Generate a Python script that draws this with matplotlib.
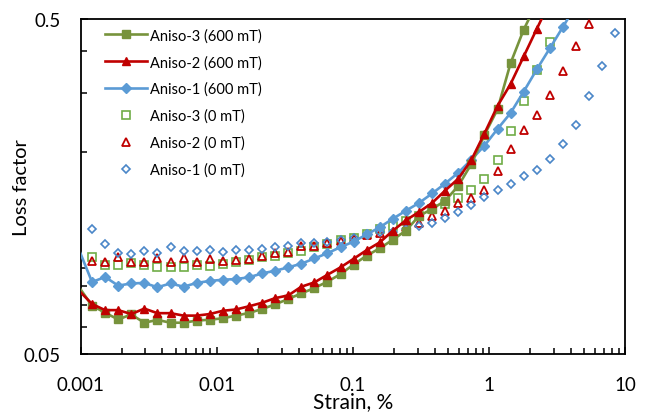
import matplotlib
matplotlib.use("Agg")
import matplotlib.pyplot as plt
from matplotlib.ticker import LogLocator, FixedLocator, NullFormatter, FixedFormatter

plt.rcParams['font.family'] = ['Lato', 'DejaVu Sans']

# Strain values (%) at which the data were recorded
strain = [0.000974, 0.001215, 0.001516, 0.001891, 0.002359, 0.002943, 0.003673,
          0.004582, 0.005716, 0.007131, 0.008897, 0.01110, 0.01385, 0.01728,
          0.02156, 0.02690, 0.03357, 0.04188, 0.05225, 0.06521, 0.08134,
          0.1015, 0.1266, 0.1580, 0.1971, 0.2459, 0.3069, 0.3828, 0.4776,
          0.5959, 0.7436, 0.9279, 1.158, 1.444, 1.802, 2.248, 2.805, 3.500,
          4.367, 5.448, 6.797, 8.481]

# 600 mT series (start at strain[0])
aniso3_600 = [0.0792, 0.0697, 0.0664, 0.0634, 0.0656, 0.0620, 0.0632, 0.0620,
              0.0620, 0.0629, 0.0633, 0.0639, 0.0651, 0.0663, 0.0681, 0.0703,
              0.0730, 0.0758, 0.0787, 0.0822, 0.0866, 0.0925, 0.0983, 0.1034,
              0.1097, 0.1168, 0.1291, 0.1355, 0.1434, 0.1587, 0.1846, 0.2253,
              0.2688, 0.3690, 0.4645, 0.5581]
aniso2_600 = [0.0773, 0.0705, 0.0676, 0.0676, 0.0658, 0.0683, 0.0662, 0.0662,
              0.0651, 0.0651, 0.0658, 0.0673, 0.0679, 0.0694, 0.0711, 0.0734,
              0.0748, 0.0794, 0.0818, 0.0862, 0.0907, 0.0962, 0.1021, 0.1077,
              0.1167, 0.1254, 0.1327, 0.1412, 0.1538, 0.1668, 0.1897, 0.2276,
              0.2750, 0.3198, 0.3864, 0.4668, 0.5620]
aniso1_600 = [0.1024, 0.0820, 0.0849, 0.0800, 0.0812, 0.0815, 0.0791, 0.0812,
              0.0794, 0.0815, 0.0826, 0.0833, 0.0837, 0.0847, 0.0870, 0.0886,
              0.0907, 0.0930, 0.0964, 0.1000, 0.1042, 0.1083, 0.1137, 0.1195,
              0.1267, 0.1339, 0.1412, 0.1507, 0.1614, 0.1738, 0.1901, 0.2093,
              0.2348, 0.2620, 0.3034, 0.3534, 0.4088, 0.4732, 0.5505]

# 0 mT series (start at strain[1])
aniso3_0 = [0.0977, 0.0922, 0.0922, 0.0933, 0.0923, 0.0909, 0.0909, 0.0909,
            0.0922, 0.0917, 0.0930, 0.0939, 0.0956, 0.0972, 0.0983, 0.1001,
            0.1017, 0.1041, 0.1065, 0.1093, 0.1108, 0.1141, 0.1181, 0.1205,
            0.1247, 0.1294, 0.1355, 0.1402, 0.1458, 0.1547, 0.1665, 0.1901,
            0.2320, 0.2852, 0.3522, 0.4278]
aniso2_0 = [0.0948, 0.0938, 0.0977, 0.0943, 0.0939, 0.0964, 0.0941, 0.0966,
            0.0939, 0.0961, 0.0948, 0.0954, 0.0959, 0.0981, 0.0999, 0.1010,
            0.1047, 0.1051, 0.1069, 0.1086, 0.1102, 0.1133, 0.1149, 0.1159,
            0.1201, 0.1230, 0.1294, 0.1339, 0.1407, 0.1464, 0.1544, 0.1753,
            0.2046, 0.2336, 0.2590, 0.2966, 0.3497, 0.4139, 0.4831]
aniso1_0 = [0.1181, 0.1065, 0.1001, 0.0991, 0.1012, 0.1001, 0.1043, 0.1013,
            0.1013, 0.1022, 0.1010, 0.1022, 0.1022, 0.1031, 0.1043, 0.1051,
            0.1069, 0.1069, 0.1083, 0.1095, 0.1106, 0.1137, 0.1157, 0.1159,
            0.1177, 0.1205, 0.1230, 0.1271, 0.1324, 0.1392, 0.1468, 0.1547,
            0.1609, 0.1696, 0.1775, 0.1906, 0.2113, 0.2418, 0.2945, 0.3627,
            0.4541]

x_ticks = [0.001, 0.01, 0.1, 1, 10]
x_tick_labels = ['0.001', '0.01', '0.1', '1', '10']
y_ticks = [0.05, 0.5]
y_tick_labels = ['0.05', '0.5']

GREEN_DARK = '#77933C'
GREEN_LIGHT = '#70AD47'
RED = '#C00000'
BLUE = '#5B9BD5'
BLUE_OPEN = '#4A86C8'

fig = plt.figure(figsize=(6.51, 4.14), dpi=100)
ax = fig.add_axes([0.1237, 0.1425, 0.8363, 0.8092])

def x_for(series, start):
    return strain[start:start + len(series)]

lw = 1.9
ax.plot(x_for(aniso3_600, 0), aniso3_600, color=GREEN_DARK, lw=lw, marker='s',
        ms=5.2, mfc=GREEN_DARK, mec=GREEN_DARK, markevery=slice(1, None),
        label='Aniso-3 (600 mT)', zorder=5)
ax.plot(x_for(aniso2_600, 0), aniso2_600, color=RED, lw=lw, marker='^',
        ms=5.6, mfc=RED, mec=RED, markevery=slice(1, None),
        label='Aniso-2 (600 mT)', zorder=6)
ax.plot(x_for(aniso1_600, 0), aniso1_600, color=BLUE, lw=lw, marker='D',
        ms=5.2, mfc=BLUE, mec=BLUE, markevery=slice(1, None),
        label='Aniso-1 (600 mT)', zorder=4)
ax.plot(x_for(aniso3_0, 1), aniso3_0, ls='none', marker='s', ms=5.6,
        mfc='none', mec=GREEN_LIGHT, mew=1.2, label='Aniso-3 (0 mT)', zorder=3)
ax.plot(x_for(aniso2_0, 1), aniso2_0, ls='none', marker='^', ms=5.6,
        mfc='none', mec=RED, mew=1.3, label='Aniso-2 (0 mT)', zorder=3)
ax.plot(x_for(aniso1_0, 1), aniso1_0, ls='none', marker='D', ms=4.2,
        mfc='none', mec=BLUE_OPEN, mew=1.2, label='Aniso-1 (0 mT)', zorder=3)

ax.set_xscale('log')
ax.set_yscale('log')
ax.set_xlim(0.001, 10)
ax.set_ylim(0.05, 0.5)

ax.xaxis.set_major_locator(FixedLocator(x_ticks))
ax.xaxis.set_major_formatter(FixedFormatter(x_tick_labels))
ax.xaxis.set_minor_locator(LogLocator(base=10, subs=range(2, 10), numticks=20))
ax.xaxis.set_minor_formatter(NullFormatter())
ax.yaxis.set_major_locator(FixedLocator(y_ticks))
ax.yaxis.set_major_formatter(FixedFormatter(y_tick_labels))
ax.yaxis.set_minor_locator(LogLocator(base=10, subs=range(2, 10), numticks=20))
ax.yaxis.set_minor_formatter(NullFormatter())

ax.tick_params(axis='both', which='both', direction='in', top=False, right=False,
               width=1.1, colors='black')
ax.tick_params(axis='both', which='major', length=5, labelsize=13.5)
ax.tick_params(axis='x', which='major', pad=15.5)
ax.tick_params(axis='y', which='major', pad=14.5)
ax.tick_params(axis='both', which='minor', length=4)
for s in ax.spines.values():
    s.set_linewidth(1.3)
    s.set_color('black')

ax.set_xlabel('Strain, %', fontsize=15)
ax.set_ylabel('Loss factor', fontsize=14.5)
ax.xaxis.label.set_va('baseline')
ax.xaxis.set_label_coords(0.5, -0.158)
ax.yaxis.set_label_coords(-0.092, 0.5)

leg = ax.legend(loc='upper left', bbox_to_anchor=(0.045, 0.973), frameon=False,
                fontsize=10.5, handlelength=2.9, handletextpad=0.2,
                labelspacing=0.86, numpoints=1, borderaxespad=0, borderpad=0)

fig.savefig('out.png', dpi=100)
